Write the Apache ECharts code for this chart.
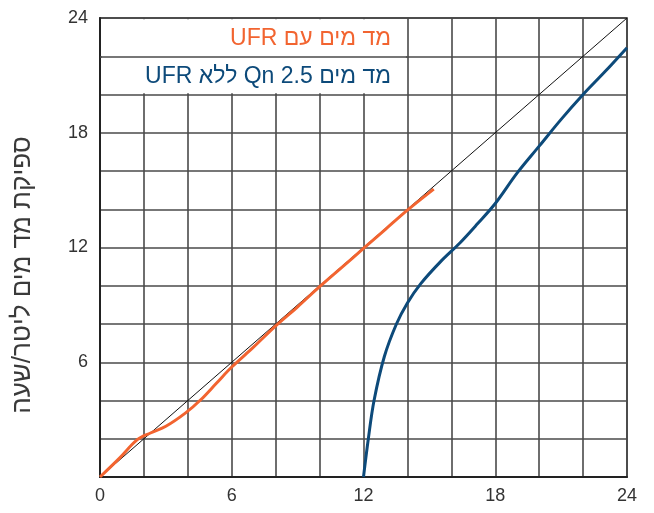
<!DOCTYPE html>
<html>
<head>
<meta charset="utf-8">
<script src="https://cdn.jsdelivr.net/npm/echarts@6/dist/echarts.min.js"></script>
<style>
html,body{margin:0;padding:0;background:#fff;}
#c{width:654px;height:513px;}
</style>
</head>
<body>
<div id="c"></div>
<script>
// ---- data ----
const seriesNames = ['מד מים עם UFR', 'מד מים Qn 2.5 ללא UFR'];
const withUFR = [[0,0],[0.9,1.0],[1.7,1.95],[2.3,2.3],[3,2.65],[3.9,3.35],[4.6,4.05],[5.3,4.9],[6,5.75],[7,6.8],[8,7.9],[9,8.9],[10,9.95],[11,10.95],[12,11.95],[13,12.95],[14,13.95],[15.2,15.05]];
const withoutUFR = [[12,0],[12.22,2],[12.48,4],[12.95,6.3],[13.5,8],[14,9.1],[14.6,10.1],[15.5,11.25],[16.4,12.25],[17.2,13.25],[18,14.3],[19,15.9],[20,17.3],[21,18.7],[22,20],[23,21.2],[24,22.45]];
const diagonal = [[0,0],[24,24]];
const xLabelValues = [0,6,12,18,24];
const yLabelValues = [6,12,18,24];
const yAxisTitle = 'ספיקת מד מים ליטר/שעה';
const legendBox = [[0,20],[14,24]];
const legendDivider = 22;

const RLE = '\u202B', PDF = '\u202C';
const orange = '#f26430';
const blue = '#0d4a7a';
const gridColor = '#4a4a4a';

const chart = echarts.init(document.getElementById('c'), null, {renderer:'canvas'});
const option = {
  animation: false,
  backgroundColor: '#fff',
  grid: {left:100, right:27, top:18, bottom:36, show:true, borderColor:'#222', borderWidth:1.5, backgroundColor:'transparent', z:0},
  legend: {
    orient: 'vertical',
    right: 253,
    top: 22,
    align: 'right',
    icon: 'none',
    itemWidth: 0,
    itemHeight: 23,
    itemGap: 15.5,
    selectedMode: false,
    formatter: n => RLE + n + PDF,
    textStyle: {fontFamily:'Liberation Sans, Arial, sans-serif', fontSize:23},
    data: [
      {name: seriesNames[0], textStyle:{color: orange}},
      {name: seriesNames[1], textStyle:{color: blue}}
    ]
  },
  xAxis: {
    type:'value', min:0, max:24, interval:2,
    axisLine:{show:true, lineStyle:{color:'#222', width:2}},
    axisTick:{show:false},
    axisLabel:{
      margin:10, color:'#333', fontSize:18, fontFamily:'Liberation Sans, Arial, sans-serif',
      formatter: v => xLabelValues.includes(v) ? String(v) : ''
    },
    splitLine:{show:true, lineStyle:{color:gridColor, width:1.6}}
  },
  yAxis: {
    type:'value', min:0, max:24, interval:2,
    axisLine:{show:true, lineStyle:{color:'#222', width:2}},
    axisTick:{show:false},
    axisLabel:{
      margin:12, color:'#333', fontSize:18, fontFamily:'Liberation Sans, Arial, sans-serif',
      formatter: v => yLabelValues.includes(v) ? String(v) : ''
    },
    splitLine:{show:true, lineStyle:{color:gridColor, width:1.6}}
  },
  graphic: [{
    type:'text', x:23, y:275, rotation: Math.PI/2,
    style:{text: RLE + yAxisTitle + PDF, x:0, y:0, align:'center', verticalAlign:'middle',
      fill:'#3a3a3a', font:'26px "Liberation Sans", Arial, sans-serif'}
  }],
  series: [
    {
      name:'diag', type:'line', data: diagonal, symbol:'none', silent:true,
      lineStyle:{color:'#111', width:1}, z:2,
      markArea:{
        silent:true,
        itemStyle:{color:'#fff', borderWidth:0},
        data:[[{coord:[legendBox[0][0]+0.08, legendBox[0][1]+0.06]},{coord:[legendBox[1][0]-0.07, legendBox[1][1]-0.07]}]]
      },
      markLine:{
        silent:true, symbol:'none', label:{show:false},
        lineStyle:{color:gridColor, width:1.6, type:'solid'},
        data:[[{coord:[legendBox[0][0], legendDivider]},{coord:[legendBox[1][0], legendDivider]}]]
      }
    },
    {
      name: seriesNames[0], type:'line', data: withUFR, symbol:'none', smooth:0.35,
      lineStyle:{color: orange, width:3}, itemStyle:{color: orange}, z:3
    },
    {
      name: seriesNames[1], type:'line', data: withoutUFR, symbol:'none', smooth:0.35,
      lineStyle:{color: blue, width:3}, itemStyle:{color: blue}, z:3
    }
  ]
};
chart.setOption(option);
</script>
</body>
</html>
